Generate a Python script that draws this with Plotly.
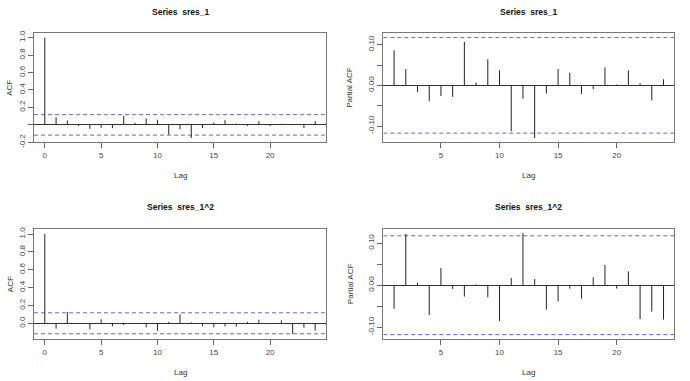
import plotly.graph_objects as go

W, H = 690, 381

# ---------------- data ----------------
acf_lags = list(range(0, 25))
pacf_lags = list(range(1, 25))

acf_sres = [1.0, 0.088, 0.050, -0.015, -0.046, -0.035, -0.038, 0.104, 0.023, 0.073,
            0.058, -0.112, -0.050, -0.152, -0.038, 0.027, 0.054, 0.015, -0.012, 0.042,
            -0.012, 0.012, -0.004, -0.035, 0.042]
pacf_sres = [0.086, 0.040, -0.016, -0.039, -0.026, -0.028, 0.107, 0.007, 0.064, 0.037,
             -0.113, -0.033, -0.130, -0.020, 0.040, 0.031, -0.021, -0.009, 0.044, 0.002,
             0.037, 0.005, -0.037, 0.015]
acf_sq = [1.0, -0.060, 0.127, -0.007, -0.067, 0.045, -0.034, -0.020, 0.002, -0.045,
          -0.086, 0.015, 0.100, 0.010, -0.034, -0.045, -0.034, -0.037, 0.015, 0.041,
          -0.007, 0.034, -0.116, -0.049, -0.082]
pacf_sq = [-0.056, 0.122, 0.006, -0.071, 0.041, -0.009, -0.027, 0.002, -0.029, -0.085,
           0.017, 0.124, 0.015, -0.058, -0.039, -0.008, -0.032, 0.019, 0.048, -0.008,
           0.033, -0.081, -0.063, -0.082]

clim = 0.1175

titles = ["Series  sres_1", "Series  sres_1", "Series  sres_1^2", "Series  sres_1^2"]
ylabels = ["ACF", "Partial ACF", "ACF", "Partial ACF"]

acf_ticks = [-0.2, 0.0, 0.2, 0.4, 0.6, 0.8, 1.0]
acf_ticktext_top = ["-0.2", "", "0.2", "0.4", "0.6", "0.8", "1.0"]
acf_ticktext_bot = ["-0.2", "0.0", "0.2", "0.4", "0.6", "0.8", "1.0"]
pacf_ticks = [-0.10, -0.05, 0.0, 0.05, 0.10]
pacf_ticktext = ["-0.10", "", "0.00", "", "0.10"]
acf_xticks = [0, 5, 10, 15, 20]
pacf_xticks = [5, 10, 15, 20]

# ---------------- layout geometry (pixels) ----------------
boxes = [  # x0, x1, y0(top), y1(bottom)
    (34, 326, 33.3, 142.3),
    (383.3, 674.3, 33.3, 142.3),
    (34, 326, 229.3, 339),
    (383.3, 674.3, 229.3, 339),
]

panels = [
    (acf_lags, acf_sres, [-0.2, 1.05], acf_ticks, acf_ticktext_top, acf_xticks, [-0.96, 24.96]),
    (pacf_lags, pacf_sres, [-0.14, 0.128], pacf_ticks, pacf_ticktext, pacf_xticks, [0.08, 24.92]),
    (acf_lags, acf_sq, [-0.176, 1.053], acf_ticks[1:], acf_ticktext_bot[1:], acf_xticks, [-0.96, 24.96]),
    (pacf_lags, pacf_sq, [-0.128, 0.133], pacf_ticks, pacf_ticktext, pacf_xticks, [0.08, 24.92]),
]

FONT = "Liberation Sans, Arial, sans-serif"
fig = go.Figure()
layout = dict(
    template="none",
    width=W, height=H, margin=dict(l=0, r=0, t=0, b=0, autoexpand=False),
    paper_bgcolor="white", plot_bgcolor="white", showlegend=False,
    font=dict(family=FONT, size=8, color="#333"),
)
annotations = []

for i, (lags, vals, yr, yt, ytt, xt, xr) in enumerate(panels):
    n = i + 1
    xa = "x" if n == 1 else f"x{n}"
    ya = "y" if n == 1 else f"y{n}"
    x0, x1, t, b = boxes[i]
    # confidence bounds (dashed blue)
    for c in (clim, -clim):
        fig.add_trace(go.Scatter(x=[xr[0], xr[1]], y=[c, c], mode="lines", xaxis=xa, yaxis=ya,
                                 line=dict(color="#6464d8", width=1, dash="4px,3px"),
                                 hoverinfo="skip"))
    xs, ys = [], []
    for k, v in zip(lags, vals):
        xs += [k, k, None]
        ys += [0, v, None]
    fig.add_trace(go.Scatter(x=xs, y=ys, mode="lines", xaxis=xa, yaxis=ya,
                             line=dict(color="#222", width=1), hoverinfo="skip"))
    axis_common = dict(showgrid=False, showline=True, mirror=True, linecolor="#777",
                       linewidth=1.2, ticks="outside", ticklen=5, tickcolor="#666",
                       automargin=False,
                       tickfont=dict(size=8, color="#444", family=FONT))
    layout["xaxis" if n == 1 else f"xaxis{n}"] = dict(
        domain=[x0 / W, x1 / W], anchor=ya, range=xr, tickvals=xt,
        zeroline=False, **axis_common)
    layout["yaxis" if n == 1 else f"yaxis{n}"] = dict(
        domain=[1 - b / H, 1 - t / H], anchor=xa, range=yr, tickvals=yt, ticktext=ytt,
        tickangle=-90, zeroline=True, zerolinecolor="#333", zerolinewidth=1, **axis_common)
    cx = (x0 + x1) / 2 / W
    annotations.append(dict(text="<b>" + titles[i] + "</b>", x=cx, y=1 - (12.3 if i < 2 else 207.5) / H,
                            xref="paper", yref="paper", showarrow=False, xanchor="center", yanchor="middle",
                            font=dict(size=8.5, color="#111", family=FONT)))
    annotations.append(dict(text="Lag", x=cx, y=1 - (175.7 if i < 2 else 372.7) / H,
                            xref="paper", yref="paper", showarrow=False, xanchor="center", yanchor="middle",
                            font=dict(size=8, color="#333", family=FONT)))
    annotations.append(dict(text=ylabels[i], x=(10 if i % 2 == 0 else 350) / W, y=1 - (t + b) / 2 / H,
                            xref="paper", yref="paper", showarrow=False, xanchor="center", yanchor="middle",
                            textangle=-90, font=dict(size=8, color="#333", family=FONT)))

layout["annotations"] = annotations
fig.update_layout(**layout)
fig.write_html("out.html", config={"displayModeBar": False},
               post_script="document.body.style.margin='0';")
